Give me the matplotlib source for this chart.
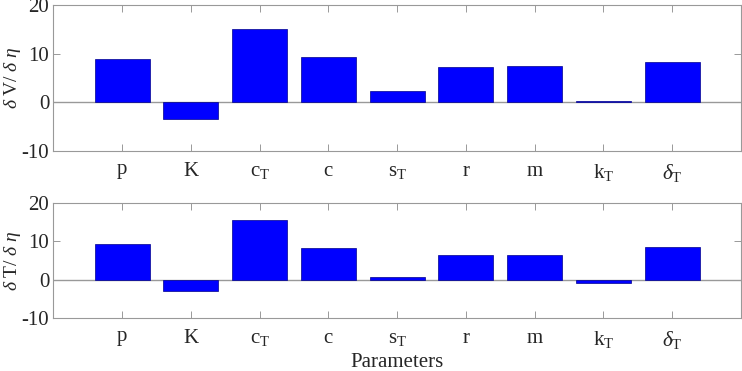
import numpy as np
import matplotlib
matplotlib.use("Agg")
import matplotlib.pyplot as plt

plt.rcParams["font.family"] = "Liberation Serif"
plt.rcParams["mathtext.fontset"] = "custom"
plt.rcParams["mathtext.rm"] = "Liberation Serif"
plt.rcParams["mathtext.it"] = "Liberation Serif:italic"
plt.rcParams["axes.unicode_minus"] = False

params = [r"$\mathrm{p}$", r"$\mathrm{K}$", r"$\mathrm{c_T}$", r"$\mathrm{c}$", r"$\mathrm{s_T}$",
          r"$\mathrm{r}$", r"$\mathrm{m}$", r"$\mathrm{k_T}$", r"$\delta_\mathrm{T}$"]
dV = [8.95, -3.35, 15.2, 9.35, 2.45, 7.35, 7.55, 0.35, 8.4]
dT = [9.35, -2.95, 15.5, 8.35, 0.65, 6.35, 6.35, -0.8, 8.55]
yticks = [-10, 0, 10, 20]

fig = plt.figure(figsize=(7.42, 3.71), dpi=100)
ax1 = fig.add_axes([0.0721, 0.593, 0.9265, 0.3927])
ax2 = fig.add_axes([0.0721, 0.142, 0.9265, 0.3116])

x = np.arange(1, len(params) + 1)
for ax, vals, lab in [(ax1, dV, r"$\delta\ \mathrm{V}/\ \delta\ \eta$"),
                      (ax2, dT, r"$\delta\ \mathrm{T}/\ \delta\ \eta$")]:
    ax.bar(x, vals, 0.8, color="#0000ff", edgecolor="#00008b", linewidth=0.5, zorder=2)
    ax.axhline(0, color="#999999", linewidth=1.0, zorder=1)
    ax.set_xlim(0, 10)
    ax.set_ylim(-10, 20)
    ax.set_yticks(yticks)
    ax.set_yticklabels([str(v) for v in yticks])
    ax.set_xticks(x)
    ax.set_xticklabels(params)
    ax.tick_params(direction="in", length=5, width=0.7, colors="#999999",
                   labelcolor="#262626", labelsize=15, top=True, right=True, pad=8)
    ax.tick_params(axis="y", pad=3)
    for s in ax.spines.values():
        s.set_color("#999999")
        s.set_linewidth(0.8)
    ax.set_ylabel(lab, fontsize=14, color="#262626")
    ax.yaxis.set_label_coords(-0.045, 0.5)

ax2.set_xlabel("Parameters", fontsize=15, color="#262626", labelpad=1)

fig.savefig("out.png", dpi=100)
